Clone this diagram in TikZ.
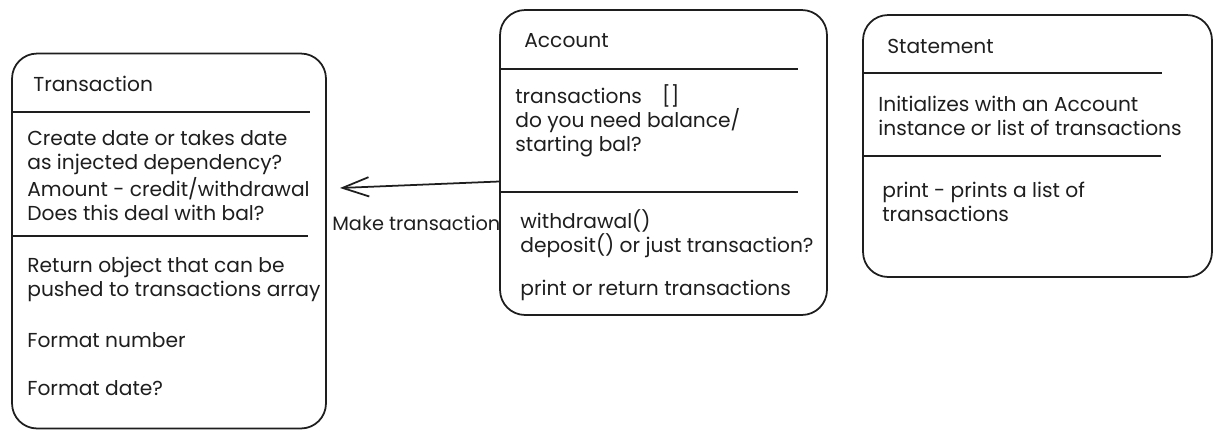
\documentclass[tikz,border=0pt]{standalone}
\usepackage{fontspec}
\setmainfont{Poppins}
\usetikzlibrary{arrows.meta}
\definecolor{ink}{HTML}{1E1E1E}

\begin{document}
\begin{tikzpicture}[x=0.02cm,y=-0.02cm,color=ink,
        box/.style={draw,rounded corners=0.5cm,line width=1pt},
        txt/.style={anchor=base west,align=left,inner sep=0pt,
          font=\fontsize{11.5}{13.65}\selectfont},
        sep/.style={line width=1pt},
        arr/.style={line width=1pt,-{Straight Barb[length=15pt,width=11pt]}}]

  \fill[white] (0,0) rectangle (1217,437);

  % the three classes
  \node[box,minimum width=6.28cm,minimum height=7.5cm] (tr) at (169,241) {};
  \node[box,minimum width=6.54cm,minimum height=6.1cm] (acc) at (663.5,162.5) {};
  \node[box,minimum width=6.98cm,minimum height=5.24cm] (st) at (1037.5,146) {};

  \draw[sep] (tr.west |- 0,112) -- (310,112);
  \draw[sep] (tr.west |- 0,236) -- (308,236);
  \draw[sep] (acc.west |- 0,69) -- (798,69);
  \draw[sep] (acc.west |- 0,192) -- (798,192);
  \draw[sep] (st.west |- 0,73) -- (1162,73);
  \draw[sep] (st.west |- 0,156) -- (1161,156);

  % Transaction (multi-line texts sit on their last line)
  \node[txt] (tr title) at (33,91) {Transaction};
  \node[txt] (tr attr) at (27,220) {Create date or takes date\\as injected dependency?\\Amount - credit/withdrawal\\Does this deal with bal?};
  \node[txt] (tr ret) at (27,296) {Return object that can be\\pushed to transactions array};
  \node[txt] (tr num) at (27,347) {Format number};
  \node[txt] (tr date) at (27,395) {Format date?};

  % Account
  \node[txt] (acc title) at (524,47) {Account};
  \node[txt] (acc attr) at (515,151) {transactions\quad[]\\do you need balance/\\starting bal?};
  \node[txt] (acc ops) at (520,252) {withdrawal()\\deposit() or just transaction?};
  \node[txt] (acc print) at (520,295) {print or return transactions};

  % Statement
  \node[txt] (st title) at (887,53) {Statement};
  \node[txt] (st attr) at (878,135) {Initializes with an Account\\instance or list of transactions};
  \node[txt] (st print) at (882,221) {print - prints a list of\\transactions};

  % call from Account to Transaction
  \coordinate (tip) at (340,188);
  \draw[arr] (acc.west) ++(0,19) -- (tip);
  \node[txt,font=\fontsize{11}{13}\selectfont] (make) at (332,230) {Make transaction};
\end{tikzpicture}
\end{document}
